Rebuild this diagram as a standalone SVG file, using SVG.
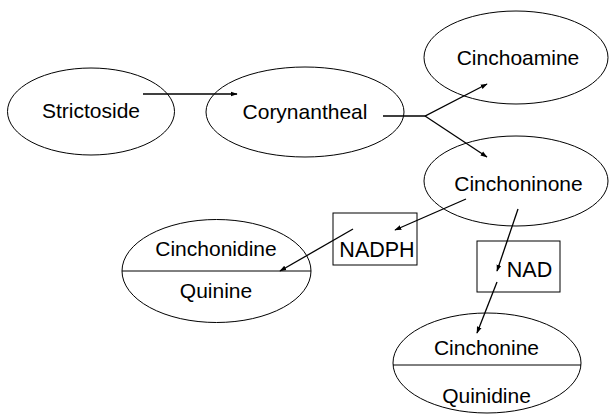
<svg xmlns="http://www.w3.org/2000/svg" width="609" height="414" viewBox="0 0 609 414">
<style>
.n{fill:#fff;stroke:#000;stroke-width:1}
.t{font-family:"Liberation Sans",Arial,sans-serif;font-size:21px;fill:#000;text-anchor:middle}
.c{fill:none;stroke:#000;stroke-width:1.3}
</style>
<defs>
<marker id="a" viewBox="0 0 10 10" refX="9" refY="5" markerWidth="7" markerHeight="7" orient="auto" markerUnits="userSpaceOnUse">
<path d="M0,1.5 L10,5 L0,8.5 Z" fill="#000"/>
</marker>
</defs>
<rect width="609" height="414" fill="#fff"/>
<g id="strictoside"><ellipse class="n" cx="91" cy="111.5" rx="83.5" ry="43.5"/><text class="t" x="91" y="118">Strictoside</text></g>
<g id="corynantheal"><ellipse class="n" cx="305" cy="112" rx="99" ry="45"/><text class="t" x="305" y="118.5">Corynantheal</text></g>
<g id="cinchoamine"><ellipse class="n" cx="516" cy="57.5" rx="92" ry="46.5"/><text class="t" x="518" y="64.5">Cinchoamine</text></g>
<g id="cinchoninone"><ellipse class="n" cx="516" cy="181" rx="92" ry="45"/><text class="t" x="518.5" y="190.5">Cinchoninone</text></g>
<g id="nadph"><rect class="n" x="333" y="213" width="84" height="52"/><text class="t" x="377" y="256.5" style="font-size:21.5px">NADPH</text></g>
<g id="nad"><rect class="n" x="477" y="241" width="83" height="51"/><text class="t" x="529.5" y="276.5" style="font-size:21.5px">NAD</text></g>
<g id="cinchonidine-quinine"><ellipse class="n" cx="216.5" cy="271" rx="94.5" ry="51.5"/><line class="n" x1="122" y1="271" x2="311" y2="271"/><text class="t" x="216" y="255.5">Cinchonidine</text><text class="t" x="216" y="297.5">Quinine</text></g>
<g id="cinchonine-quinidine"><ellipse class="n" cx="487" cy="363" rx="94" ry="50"/><line class="n" x1="393" y1="365" x2="581" y2="365"/><text class="t" x="486.5" y="354.5">Cinchonine</text><text class="t" x="486.5" y="402.5">Quinidine</text></g>
<g id="connectors">
<line class="c" x1="143" y1="94" x2="237" y2="94" marker-end="url(#a)"/>
<polyline class="c" points="383,116 425,116 487,84" marker-end="url(#a)"/>
<line class="c" x1="425" y1="116" x2="487" y2="157" marker-end="url(#a)"/>
<line class="c" x1="466" y1="199" x2="395" y2="230" marker-end="url(#a)"/>
<line class="c" x1="353" y1="229" x2="280" y2="271" marker-end="url(#a)"/>
<line class="c" x1="518" y1="209" x2="497" y2="271" marker-end="url(#a)"/>
<line class="c" x1="497" y1="282" x2="477" y2="333" marker-end="url(#a)"/>
</g>
</svg>
